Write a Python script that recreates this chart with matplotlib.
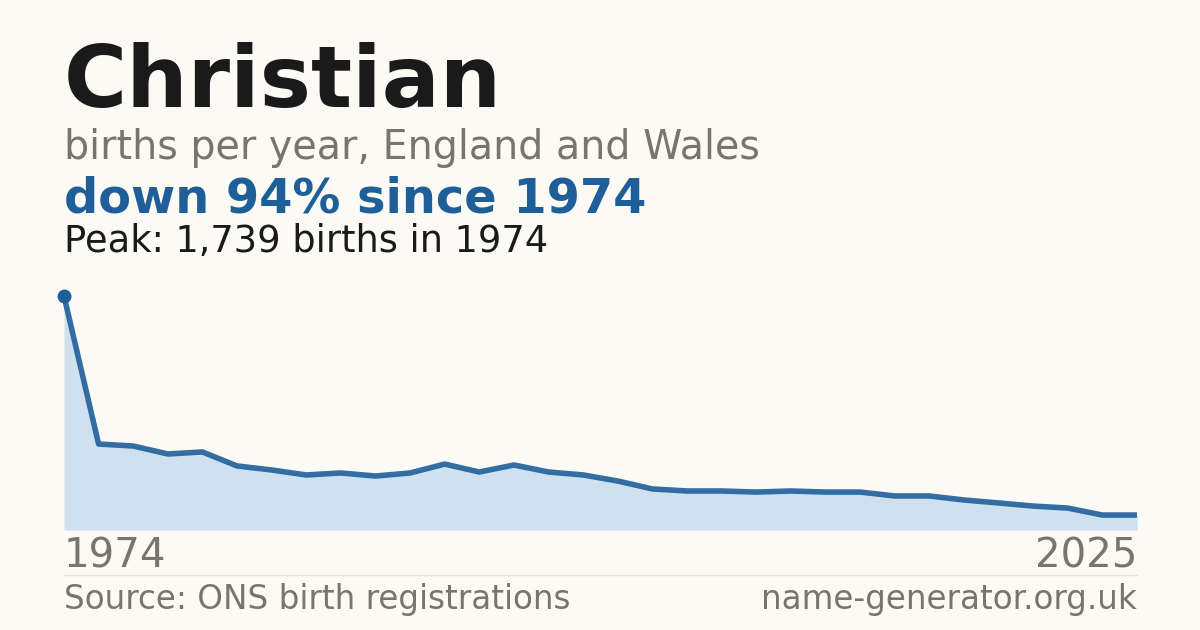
import matplotlib
matplotlib.use("Agg")
import matplotlib.pyplot as plt

years = [1974] + list(range(1995, 2026))
births = [1739, 639, 624, 565, 580, 476, 446, 409, 424, 401, 424, 490, 431, 483,
          431, 409, 364, 305, 290, 290, 282, 290, 282, 282, 253, 253, 223, 201,
          178, 163, 111, 111]
years = years[:len(births)]
idx = list(range(len(births)))

bg = "#fbfaf5"
blue = "#1f5f99"
fig = plt.figure(figsize=(12, 6.3), dpi=100, facecolor=bg)
W, H = 1200, 630
ax = fig.add_axes([64/W, 1-530/H, (1137-64)/W, (530-290)/H])
ax.set_facecolor(bg)
ax.fill_between(idx, births, 0, color="#cfe0ef", lw=0)
ax.plot(idx, births, color=blue, lw=4, solid_capstyle="butt", alpha=0.9)
ax.plot(idx[0], births[0], "o", color=blue, ms=9)
ax.set_xlim(0, len(births)-1)
ax.set_ylim(0, 1739*240/234)
ax.axis("off")
for a in ax.get_children():
    try: a.set_clip_on(False)
    except Exception: pass

grey = "#777570"
fig.text(64/W, 1-84/H, "Christian", fontsize=62, fontweight="bold", color="#1a1a1a", va="center")
fig.text(64/W, 1-148/H, "births per year, England and Wales", fontsize=28.5, color=grey, va="center")
fig.text(64/W, 1-199/H, "down 94% since 1974", fontsize=34.5, fontweight="bold", color=blue, va="center")
fig.text(64/W, 1-242/H, "Peak: 1,739 births in 1974", fontsize=26.5, color="#1a1a1a", va="center")
fig.text(64/W, 1-557/H, "1974", fontsize=29, color=grey, va="center")
fig.text(1137/W, 1-557/H, "2025", fontsize=29, color=grey, va="center", ha="right")
fig.add_artist(plt.Line2D([64/W, 1137/W], [1-575/H]*2, color="#e2e0da", lw=1))
fig.text(64/W, 1-600/H, "Source: ONS birth registrations", fontsize=23.5, color=grey, va="center")
fig.text(1137/W, 1-600/H, "name-generator.org.uk", fontsize=23.5, color=grey, va="center", ha="right")
fig.savefig("out.png", facecolor=bg)
